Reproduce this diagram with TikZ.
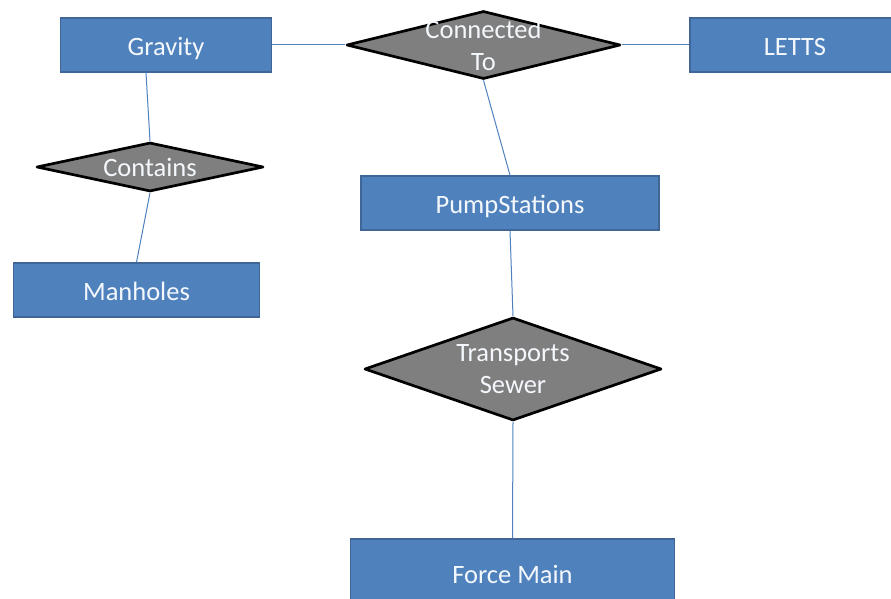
\documentclass[tikz,border=0pt]{standalone}
\usepackage{fontspec}
\setmainfont{Carlito}
\usetikzlibrary{shapes.geometric}
\definecolor{boxblue}{HTML}{4F81BD}
\definecolor{boxedge}{HTML}{3F6696}
\definecolor{dgray}{HTML}{7F7F7F}
\definecolor{txt}{HTML}{F4F8FC}
\tikzset{
  entity/.style={rectangle, draw=boxedge, line width=1.5pt, fill=boxblue,
    text=txt, inner sep=0pt, minimum height=54pt, text height=24pt, text depth=3pt,
    font=\fontsize{26.5}{32}\selectfont},
  relation/.style={diamond, draw=black, line width=2.7pt, line join=round,
    fill=dgray, inner sep=0pt},
  dlabel/.style={text=txt, align=center, inner sep=0pt,
    font=\fontsize{26.5}{32}\selectfont},
  conn/.style={draw=boxblue, line width=1pt}
}
\begin{document}
\begin{tikzpicture}[x=1pt,y=-1pt]
\useasboundingbox (0,0) rectangle (891,599);
% entities
\node[entity, minimum width=211pt] (grav) at (166,45) {Gravity};
\node[entity, minimum width=210pt] (letts) at (795,45) {LETTS};
\node[entity, minimum width=298pt] (pump) at (510,203) {PumpStations};
\node[entity, minimum width=246pt] (man) at (136.5,290) {Manholes};
\node[entity, minimum width=324pt, minimum height=68pt] (fm) at (512.5,573) {Force Main};
% relationships
\node[relation, minimum width=274pt, minimum height=68pt,
  label={[dlabel]center:Connected\\To}] (conto) at (483.5,45) {};
\node[relation, minimum width=227pt, minimum height=49pt,
  label={[dlabel]center:Contains}] (cont) at (150,167) {};
\node[relation, minimum width=297pt, minimum height=103pt,
  label={[dlabel]center:Transports\\Sewer}] (trans) at (513,369) {};
% connectors
\draw[conn] ([xshift=-20pt]grav.south) -- (cont.north);
\draw[conn] (cont.south) -- (man.north);
\draw[conn] (grav.east) -- (conto.west);
\draw[conn] (conto.east) -- (letts.west);
\draw[conn] (conto.south) -- (pump.north);
\draw[conn] (pump.south) -- (trans.north);
\draw[conn] (trans.south) -- (fm.north);
\end{tikzpicture}
\end{document}
